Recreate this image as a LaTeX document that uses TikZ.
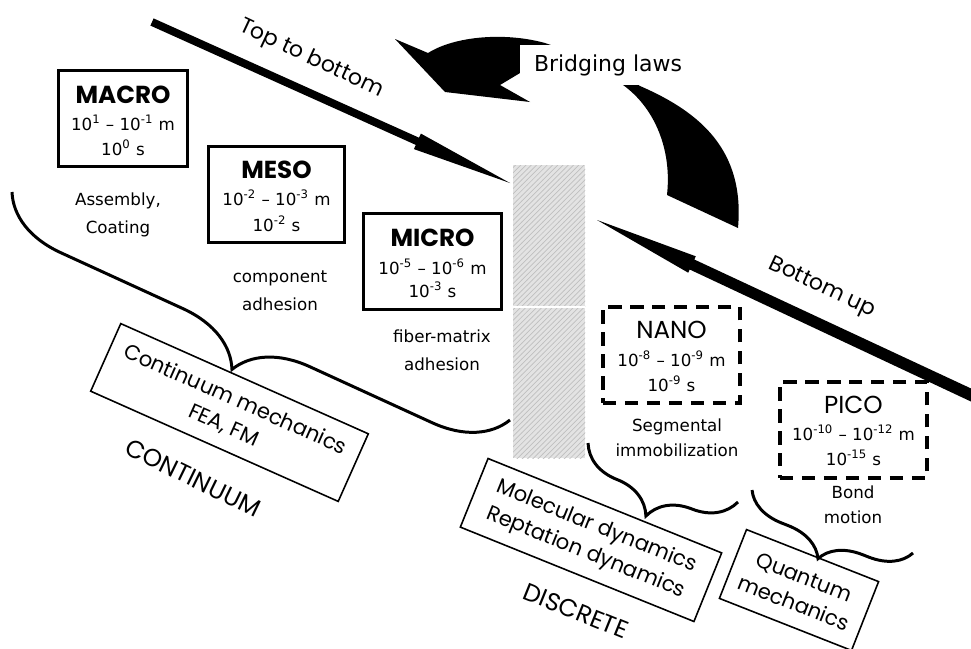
\documentclass[tikz,border=0pt]{standalone}
\usepackage{fontspec}
\setmainfont{DejaVu Sans}
\newfontfamily\comic{Poppins}
\usetikzlibrary{decorations.pathreplacing,patterns}
\begin{document}
\begin{tikzpicture}[x=0.02cm,y=-0.02cm,
  solidbox/.style={draw,line width=1.7pt,inner sep=0pt},
  dashbox/.style={draw,line width=2.3pt,dash pattern=on 7.5pt off 5pt,inner sep=0pt},
  titletxt/.style={font=\comic\bfseries\fontsize{14}{16}\selectfont,inner sep=0pt},
  numtxt/.style={font=\fontsize{9.5}{11}\selectfont,inner sep=0pt},
  lbltxt/.style={font=\fontsize{9.5}{16}\selectfont,align=center,inner sep=0pt},
  tiltbox/.style={draw,line width=0.9pt,align=center,inner sep=0pt,font=\comic\fontsize{12}{16}\selectfont},
  tilttxt/.style={font=\comic\fontsize{12.5}{15}\selectfont,inner sep=0pt},
  bigtilt/.style={font=\comic\fontsize{14}{16}\selectfont,inner sep=0pt},
  bracestyle/.style={decorate,decoration={brace,amplitude=#1},line width=1.7pt},
]
\useasboundingbox (0,0) rectangle (971,649);
\clip (0,0) rectangle (971,649);

% hatched separator
\fill[gray!22] (513,165) rectangle (585,458);
\fill[pattern=north east lines,pattern color=gray!50] (513,165) rectangle (585,458);
\coordinate (hl) at (513,307);
\coordinate (hr) at (585,307);
\draw[white,line width=1pt] (hl) -- (hr);

% top to bottom arrow
\coordinate (ta1) at (153.6,18.4);
\coordinate (ta2) at (419.0,137.7);
\coordinate (ta3) at (420.9,133.6);
\coordinate (tatip) at (510,183);
\coordinate (ta5) at (413.9,149.1);
\coordinate (ta6) at (415.8,144.9);
\coordinate (ta7) at (150.4,25.6);
\fill (ta1) -- (ta2) -- (ta3) -- (tatip) -- (ta5) -- (ta6) -- (ta7) -- cycle;
\node[tilttxt,rotate=-25] (ttb) at (311,59) {Top to bottom};

% bottom up arrow
\coordinate (batip) at (597,220);
\coordinate (ba2) at (695.8,256.3);
\coordinate (ba3) at (694.3,259.5);
\coordinate (ba4) at (989.1,396.9);
\coordinate (ba5) at (984.1,407.7);
\coordinate (ba6) at (689.7,269.5);
\coordinate (ba7) at (688.2,272.7);
\fill (batip) -- (ba2) -- (ba3) -- (ba4) -- (ba5) -- (ba6) -- (ba7) -- cycle;
\node[tilttxt,rotate=-25] (bup) at (822,288) {Bottom up};

% bridging curved arrow
\fill (395,39) -- (428,53) .. controls (455,36) and (505,32) .. (545,43) -- (600,62) -- (640,86)
  .. controls (700,112) and (745,150) .. (738,228) -- (667,195)
  .. controls (672,150) and (655,108) .. (623,85) -- (520,73) -- (500,85) -- (530,102) -- (445,92) -- cycle;
\node[fill=white,minimum width=3.54cm,minimum height=0.8cm,inner sep=0pt,font=\fontsize{12.5}{15}\selectfont] (bridge) at (608,65) {Bridging laws};

% MACRO
\node[solidbox,minimum width=2.6cm,minimum height=1.94cm] (macro) at (123,118.5) {};
\node[titletxt] (macroT) at (123,95) {MACRO};
\node[numtxt] (macroL) at (123,123) {10\textsuperscript{1} – 10\textsuperscript{-1} m};
\node[numtxt] (macroS) at (123,148) {10\textsuperscript{0} s};
\node[lbltxt] (assem) at (118,215) {Assembly,\\Coating};

% MESO
\node[solidbox,minimum width=2.74cm,minimum height=1.94cm] (meso) at (276.5,194.5) {};
\node[titletxt] (mesoT) at (276.5,170) {MESO};
\node[numtxt] (mesoL) at (276.5,198) {10\textsuperscript{-2} – 10\textsuperscript{-3} m};
\node[numtxt] (mesoS) at (276.5,224) {10\textsuperscript{-2} s};
\node[lbltxt] (comp) at (280,291) {component\\adhesion};

% MICRO
\node[solidbox,minimum width=2.78cm,minimum height=1.94cm] (micro) at (432.5,261.5) {};
\node[titletxt] (microT) at (432.5,238) {MICRO};
\node[numtxt] (microL) at (432.5,267) {10\textsuperscript{-5} – 10\textsuperscript{-6} m};
\node[numtxt] (microS) at (432.5,290) {10\textsuperscript{-3} s};
\node[lbltxt] (fiber) at (442,350) {fiber-matrix\\adhesion};

% NANO
\node[dashbox,minimum width=2.74cm,minimum height=1.92cm] (nano) at (671.5,355) {};
\node[titletxt,font=\comic\fontsize{14}{16}\selectfont] (nanoT) at (671.5,330) {NANO};
\node[numtxt] (nanoL) at (671.5,359) {10\textsuperscript{-8} – 10\textsuperscript{-9} m};
\node[numtxt] (nanoS) at (671.5,384) {10\textsuperscript{-9} s};
\node[lbltxt,font=\fontsize{9.5}{14}\selectfont] (segm) at (677,437.5) {Segmental\\immobilization};

% PICO
\node[dashbox,minimum width=2.94cm,minimum height=1.92cm] (pico) at (853.5,430) {};
\node[titletxt,font=\comic\fontsize{14}{16}\selectfont] (picoT) at (853.5,405) {PICO};
\node[numtxt] (picoL) at (853.5,433) {10\textsuperscript{-10} – 10\textsuperscript{-12} m};
\node[numtxt] (picoS) at (853.5,458) {10\textsuperscript{-15} s};
\node[lbltxt,font=\fontsize{9.5}{14}\selectfont] (bond) at (853,504.5) {Bond\\motion};

% tilted boxes
\node[tiltbox,rotate=-24,minimum width=5.42cm,minimum height=1.48cm] (cont) at (229.5,412.5) {Continuum mechanics\\FEA, FM};
\node[tiltbox,rotate=-22,minimum width=5.04cm,minimum height=1.48cm] (mol) at (591,540) {Molecular dynamics\\Reptation dynamics};
\node[tiltbox,rotate=-21.5,minimum width=2.84cm,minimum height=1.48cm] (quant) at (799,590) {Quantum\\mechanics};

\node[bigtilt,rotate=-26] (continuum) at (193,478) {CONTINUUM};
\node[bigtilt,rotate=-22] (discrete) at (576,611) {DISCRETE};

% braces
\coordinate (b1l) at (12,192);
\coordinate (b1r) at (510,420);
\draw[bracestyle=39.7pt] (b1r) -- (b1l);
\coordinate (b2l) at (588,443);
\coordinate (b2r) at (738,502);
\draw[bracestyle=26.6pt] (b2r) -- (b2l);
\coordinate (b3l) at (752,490);
\coordinate (b3r) at (913,553);
\draw[bracestyle=22.7pt] (b3r) -- (b3l);
\end{tikzpicture}
\end{document}
